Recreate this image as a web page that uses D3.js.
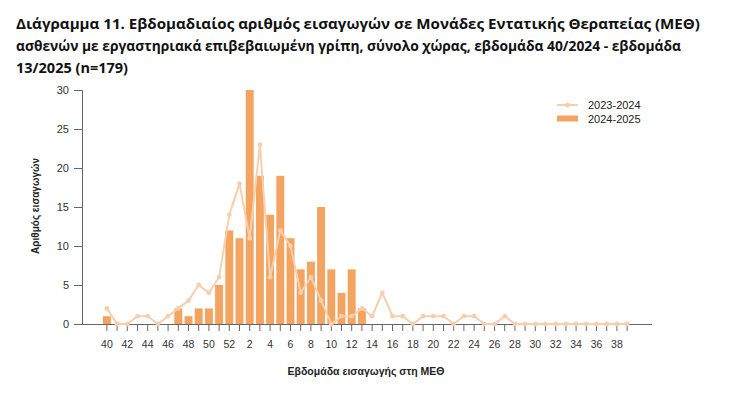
<!DOCTYPE html>
<html>
<head>
<meta charset="utf-8">
<script src="https://cdn.jsdelivr.net/npm/d3@7"></script>
<style>
  body { margin: 0; background: #fff; }
  svg { display: block; }
  text { font-family: "Liberation Sans", Arial, sans-serif; }
  .title { font-family: "Open Sans", sans-serif; font-weight: 700; font-size: 14.5px; fill: #111; }
</style>
</head>
<body>
<svg width="730" height="393"></svg>
<script>
// weeks 40/2024 .. 39/2025
const weeks = [40, 41, 42, 43, 44, 45, 46, 47, 48, 49, 50, 51, 52,
  1, 2, 3, 4, 5, 6, 7, 8, 9, 10, 11, 12, 13, 14, 15, 16, 17, 18, 19, 20,
  21, 22, 23, 24, 25, 26, 27, 28, 29, 30, 31, 32, 33, 34, 35, 36, 37, 38, 39];

const season2023 = [2, 0, 0, 1, 1, 0, 1, 2, 3, 5, 4, 6, 14,
  18, 11, 23, 6, 12, 10, 4, 6, 3, 0, 1, 1, 2, 1, 4, 1, 1, 0, 1, 1,
  1, 0, 1, 1, 0, 0, 1, 0, 0, 0, 0, 0, 0, 0, 0, 0, 0, 0, 0];

const season2024 = [1, 0, 0, 0, 0, 0, 0, 2, 1, 2, 2, 5, 12,
  11, 30, 19, 14, 19, 11, 7, 8, 15, 7, 4, 7, 2];

const xTickLabels = [40, 42, 44, 46, 48, 50, 52, 2, 4, 6, 8, 10, 12, 14, 16, 18,
  20, 22, 24, 26, 28, 30, 32, 34, 36, 38];
const yTicks = [0, 5, 10, 15, 20, 25, 30];

const titleLines = [
  'Διάγραμμα 11. Εβδομαδιαίος αριθμός εισαγωγών σε Μονάδες Εντατικής Θεραπείας (ΜΕΘ)',
  'ασθενών με εργαστηριακά επιβεβαιωμένη γρίπη, σύνολο χώρας, εβδομάδα 40/2024 - εβδομάδα',
  '13/2025 (n=179)'
];

const barColor = '#f2a460';
const lineColor = '#f8cfae';

const svg = d3.select('svg');

// title
const titleLen = [684, 665, null];
titleLines.forEach((t, i) => {
  const tx = svg.append('text')
    .attr('class', 'title')
    .attr('x', 16)
    .attr('y', 29 + i * 22)
    .text(t);
  if (titleLen[i]) tx.attr('textLength', titleLen[i]).attr('lengthAdjust', 'spacingAndGlyphs');
});

// scales
const x = d3.scaleBand()
  .domain(weeks.map((w, i) => i))
  .range([82, 652])
  .paddingInner(0.22)
  .paddingOuter(2.05);

const y = d3.scaleLinear().domain([0, 30]).range([324, 90]);

// y axis
const yAxis = svg.append('g')
  .attr('transform', 'translate(82,0)')
  .call(d3.axisLeft(y).tickValues(yTicks).tickSize(8).tickPadding(5));
yAxis.selectAll('text').style('font-size', '11px').attr('fill', '#333');
yAxis.selectAll('line, path').attr('stroke', '#666');

// x axis
const xAxis = svg.append('g')
  .attr('transform', 'translate(0,324)')
  .call(d3.axisBottom(x)
    .tickSize(7)
    .tickPadding(10)
    .tickFormat((i) => xTickLabels.includes(weeks[i]) ? weeks[i] : ''));
xAxis.select('.domain').attr('d', 'M82,0.5H652');
xAxis.selectAll('text').style('font-size', '10.5px').attr('fill', '#333');
xAxis.selectAll('line, path').attr('stroke', '#666');

// bars 2024-2025
svg.append('g')
  .selectAll('rect')
  .data(season2024)
  .join('rect')
  .attr('x', (d, i) => x(i))
  .attr('y', (d) => y(d))
  .attr('width', x.bandwidth())
  .attr('height', (d) => y(0) - y(d))
  .attr('fill', barColor);

// line 2023-2024
const cx = (i) => x(i) + x.bandwidth() / 2;
svg.append('path')
  .datum(season2023)
  .attr('fill', 'none')
  .attr('stroke', lineColor)
  .attr('stroke-width', 2)
  .attr('d', d3.line().x((d, i) => cx(i)).y((d) => y(d)));

svg.append('g')
  .selectAll('circle')
  .data(season2023)
  .join('circle')
  .attr('cx', (d, i) => cx(i))
  .attr('cy', (d) => y(d))
  .attr('r', 2.4)
  .attr('fill', lineColor);

// axis titles
svg.append('text')
  .attr('transform', 'translate(39,206) rotate(-90)')
  .attr('text-anchor', 'middle')
  .style('font-size', '10px')
  .style('font-weight', 'bold')
  .attr('fill', '#222')
  .text('Αριθμός εισαγωγών');

svg.append('text')
  .attr('x', 366)
  .attr('y', 375)
  .attr('text-anchor', 'middle')
  .style('font-size', '10.5px')
  .style('font-weight', 'bold')
  .attr('fill', '#222')
  .text('Εβδομάδα εισαγωγής στη ΜΕΘ');

// legend
const legend = svg.append('g');
legend.append('line')
  .attr('x1', 557).attr('x2', 578).attr('y1', 105).attr('y2', 105)
  .attr('stroke', lineColor).attr('stroke-width', 2);
legend.append('circle').attr('cx', 567.5).attr('cy', 105).attr('r', 2.4).attr('fill', lineColor);
legend.append('rect')
  .attr('x', 557).attr('y', 115.5).attr('width', 21).attr('height', 6)
  .attr('fill', barColor);
legend.selectAll('text.lg')
  .data(['2023-2024', '2024-2025'])
  .join('text')
  .attr('class', 'lg')
  .attr('x', 588)
  .attr('y', (d, i) => 109 + i * 13.5)
  .style('font-size', '11px')
  .attr('fill', '#222')
  .text((d) => d);
</script>
</body>
</html>
